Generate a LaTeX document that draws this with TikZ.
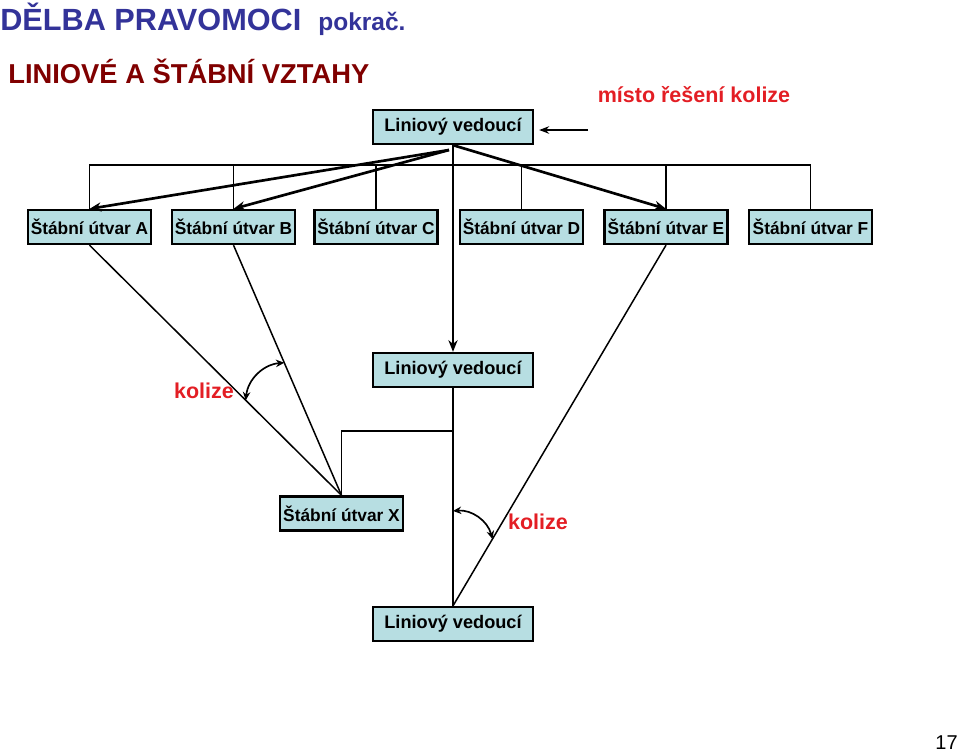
\documentclass[tikz,border=0pt]{standalone}
\usepackage{fontspec}
\setmainfont{Liberation Sans}
\usetikzlibrary{arrows.meta,calc}
\definecolor{boxfill}{RGB}{183,222,226}
\definecolor{titleblue}{RGB}{51,51,153}
\definecolor{darkred}{RGB}{128,0,0}
\definecolor{alertred}{RGB}{227,30,36}
\tikzset{
  lead/.style={draw, line width=1.4pt, fill=boxfill, minimum width=96pt,
               minimum height=20.4pt, inner sep=0pt,
               font=\fontsize{10.9}{12}\selectfont\bfseries},
  unit/.style={lead, minimum width=73.8pt, font=\fontsize{10.4}{12}\selectfont\bfseries},
  flow/.style={-{Stealth[length=7pt,width=5.5pt]}, line width=1.6pt},
  hint/.style={-{Stealth[length=6pt,width=4.5pt]}, line width=0.9pt},
  tie/.style={line width=0.9pt},
  clash/.style={{Stealth[length=5pt,width=4.5pt]}-{Stealth[length=5pt,width=4.5pt]},
                line width=1pt},
  warn/.style={text=alertred, font=\fontsize{12.9}{15}\selectfont\bfseries}
}

\begin{document}
\begin{tikzpicture}[x=0.6pt, y=-0.6pt]
  \useasboundingbox (0,0) rectangle (960,753);
  % headings
  \node[anchor=base west, inner sep=0pt, text=titleblue,
        font=\fontsize{18.4}{20}\selectfont\bfseries] (title) at (0,30) {DĚLBA PRAVOMOCI};
  \node[anchor=base west, inner sep=0pt, text=titleblue,
        font=\fontsize{14.7}{17}\selectfont\bfseries] (cont) at (318,30) {pokrač.};
  \node[anchor=base west, inner sep=0pt, text=darkred,
        font=\fontsize{16.4}{19}\selectfont\bfseries] (sub) at (8,83) {LINIOVÉ A ŠTÁBNÍ VZTAHY};
  \node[warn] (where) at (694,95) {místo řešení kolize};
  % line managers
  \node[lead] (lead1) at (453,127) {Liniový vedoucí};
  \node[lead] (lead2) at (453,370) {Liniový vedoucí};
  \node[lead] (lead3) at (453,624) {Liniový vedoucí};
  % staff units
  \node[unit] (uA) at (89.5,227) {Štábní útvar A};
  \node[unit] (uB) at (233.5,227) {Štábní útvar B};
  \node[unit] (uC) at (376,227) {Štábní útvar C};
  \node[unit] (uD) at (521.5,227) {Štábní útvar D};
  \node[unit] (uE) at (666,227) {Štábní útvar E};
  \node[unit] (uF) at (810.5,227) {Štábní útvar F};
  \node[unit] (uX) at (341.5,513.5) {Štábní útvar X};
  % bus above the staff units
  \coordinate (bus) at (0,165);
  \draw[tie] (uA.north) -- (uA.north |- bus) -- (uF.north |- bus) -- (uF.north);
  \foreach \u in {uB,uC,uD,uE}
    \draw[tie] (\u.north) -- (\u.north |- bus);
  % pointer to the top manager
  \coordinate (tip) at (588,130);
  \draw[hint] (tip) -- ([xshift=3pt]lead1.east |- tip);
  % line of command
  \coordinate (fan) at (449,150);
  \draw[flow] (fan) -- (uA.north);
  \draw[flow] (fan) -- (uB.north);
  \draw[flow] (lead1.south) -- (uE.north);
  \draw[flow] (lead1.south) -- (lead2.north);
  % staff lines to X and to the bottom manager
  \draw[tie] (uA.south) -- (uX.north);
  \draw[tie] (uB.south) -- (uX.north);
  \draw[tie] (uE.south) -- (lead3.north);
  \draw[tie] (lead2.south) -- (lead3.north);
  \draw[tie] (lead2.south |- 0,431) -| (uX.north);
  % collisions
  \coordinate (k1) at ($(uA.south)!0.62!(uX.north)$);
  \coordinate (k2) at ($(uB.south)!0.47!(uX.north)$);
  \draw[clash] (k1) to[bend left=40] (k2);
  \node[warn] (kol1) at (204,391) {kolize};
  \coordinate (k3) at ($(lead2.south)!0.564!(lead3.north)$);
  \coordinate (k4) at ($(uE.south)!0.815!(lead3.north)$);
  \draw[clash] (k3) to[bend left=40] (k4);
  \node[warn] (kol2) at (538,522) {kolize};
  % page number
  \node[anchor=base east, inner sep=0pt, font=\fontsize{12}{14}\selectfont] (page) at (958,749) {17};
\end{tikzpicture}
\end{document}
